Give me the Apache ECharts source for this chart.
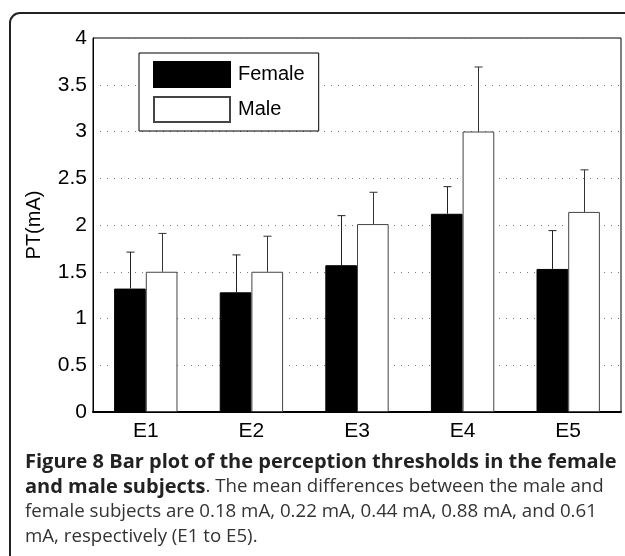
<!DOCTYPE html>
<html>
<head>
<meta charset="utf-8">
<script src="https://cdn.jsdelivr.net/npm/echarts@6/dist/echarts.min.js"></script>
<style>
  html, body { margin: 0; padding: 0; background: #fff; }
  #chart { width: 625px; height: 556px; }
</style>
</head>
<body>
<div id="chart"></div>
<script>
// values
const categories = ['E1', 'E2', 'E3', 'E4', 'E5']
const femaleMean = [1.32, 1.28, 1.57, 2.12, 1.53]
const maleMean = [1.50, 1.50, 2.01, 3.00, 2.14]
const femaleUpper = [1.71, 1.68, 2.10, 2.41, 1.94] // top of error bar
const maleUpper = [1.91, 1.88, 2.35, 3.69, 2.59]
const seriesNames = ['Female', 'Male']

const captionLines = [
  '{b|Figure 8 Bar plot of the perception thresholds in the female}',
  '{b|and male subjects}{n|. The mean differences between the male and}',
  '{n|female subjects are 0.18 mA, 0.22 mA, 0.44 mA, 0.88 mA, and 0.61}',
  '{n|mA, respectively (E1 to E5).}'
]

const font = '"Liberation Sans", Arial, sans-serif'

// error bar drawn upward from the bar top, shifted to the bar's slot
function whisker(side, color) {
  return function(params, api) {
    const i = api.value(0)
    const base = api.coord([i, api.value(1)])
    const top = api.coord([i, api.value(2)])
    const band = api.size([1, 0])[0]
    const x = Math.round(base[0] + side * band * 0.15) + 0.5
    const style = { stroke: color, lineWidth: 1 }
    return {
      type: 'group',
      children: [
        { type: 'line', shape: { x1: x, y1: base[1], x2: x, y2: top[1] }, style: style },
        { type: 'line', shape: { x1: x - 4, y1: top[1], x2: x + 4, y2: top[1] }, style: style }
      ]
    }
  }
}

const chart = echarts.init(document.getElementById('chart'))
chart.setOption({
  animation: false,
  textStyle: { fontFamily: font },
  grid: {
    left: 93, top: 38, right: 4, bottom: 144,
    show: true, borderColor: '#000', borderWidth: 1
  },
  legend: {
    data: seriesNames,
    orient: 'vertical',
    left: 139, top: 53,
    itemWidth: 76, itemHeight: 25, itemGap: 8,
    padding: [8, 14, 8, 14],
    icon: 'rect',
    backgroundColor: '#fff',
    borderColor: '#000', borderWidth: 1,
    textStyle: { fontSize: 20, color: '#000', width: 88, padding: [0, 0, 0, 3] }
  },
  xAxis: {
    type: 'category',
    data: categories,
    axisTick: { show: false },
    axisLine: { lineStyle: { color: '#000', width: 2 } },
    axisLabel: { color: '#000', fontSize: 21, margin: 9 }
  },
  yAxis: {
    type: 'value',
    min: 0, max: 4, interval: 0.5,
    name: 'PT(mA)',
    nameLocation: 'middle',
    nameGap: 49,
    nameTextStyle: { fontSize: 20, color: '#000' },
    axisLine: { show: true, lineStyle: { color: '#000', width: 1 } },
    axisTick: { show: false },
    axisLabel: { color: '#000', fontSize: 21, margin: 6 },
    splitLine: { lineStyle: { color: '#777', width: 1, type: [1, 6] } }
  },
  series: [
    {
      name: 'Female', type: 'bar', data: femaleMean,
      barGap: 0, barCategoryGap: '40%',
      itemStyle: { color: '#000', borderColor: '#000', borderWidth: 1 }
    },
    {
      name: 'Male', type: 'bar', data: maleMean,
      itemStyle: { color: '#fff', borderColor: '#444', borderWidth: 1 }
    },
    {
      type: 'custom', z: 3,
      renderItem: whisker(-1, '#222'),
      encode: { x: 0, y: [1, 2] },
      data: categories.map((c, i) => [i, femaleMean[i], femaleUpper[i]])
    },
    {
      type: 'custom', z: 3,
      renderItem: whisker(1, '#333'),
      encode: { x: 0, y: [1, 2] },
      data: categories.map((c, i) => [i, maleMean[i], maleUpper[i]])
    }
  ],
  graphic: [
    {
      type: 'rect', silent: true,
      shape: { x: 10, y: 13, width: 650, height: 580, r: 10 },
      style: { fill: null, stroke: '#222', lineWidth: 2 }
    }
  ].concat(captionLines.map((line, k) => ({
    type: 'text',
    left: 25, top: 452 + k * 25,
    style: {
      text: line,
      rich: {
        b: { fontFamily: '"Open Sans", sans-serif', fontWeight: 'bold', fontSize: 20, fill: '#222' },
        n: { fontFamily: '"Open Sans", sans-serif', fontSize: 18.7, fill: '#333' }
      }
    }
  })))
})
</script>
</body>
</html>
